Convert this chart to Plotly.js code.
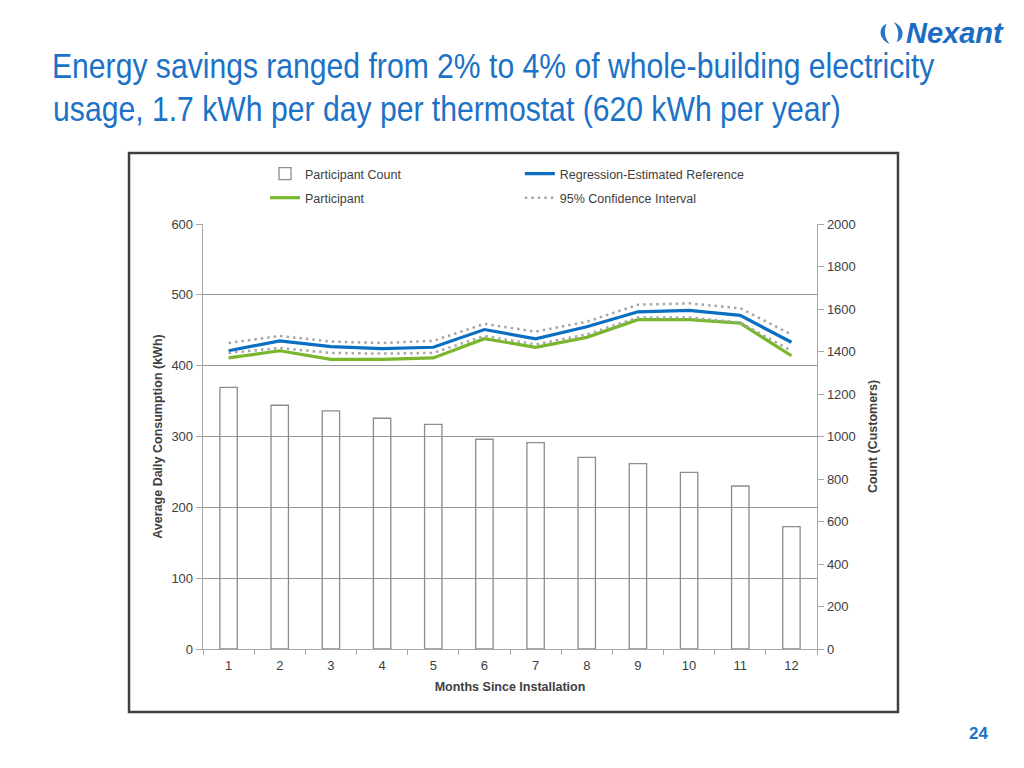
<!DOCTYPE html>
<html>
<head>
<meta charset="utf-8">
<script src="https://cdn.plot.ly/plotly-3.0.1.min.js"></script>
<style>
  html, body { margin: 0; padding: 0; background: #ffffff; }
  #chart { width: 1024px; height: 768px; }
</style>
</head>
<body>
<div id="chart"></div>
<script>
// ---- data ----
const months = ['1','2','3','4','5','6','7','8','9','10','11','12'];
const participantCount = [1231, 1147, 1121, 1086, 1057, 987, 971, 902, 872, 831, 767, 576];
const regressionReference = [421, 435, 427, 424, 426, 451, 438, 455, 476, 478, 471, 433];
const participant = [411, 421, 409, 409, 411, 438, 426, 440, 465, 465, 460, 414];
const ciUpper = [432, 442, 434, 432, 435, 459, 448, 462, 486, 488, 481, 444];
const ciLower = [418, 425, 418, 417, 418, 442, 430, 444, 468, 468, 461, 421];
const leftTicks = [0, 100, 200, 300, 400, 500, 600];
const rightTicks = [0, 200, 400, 600, 800, 1000, 1200, 1400, 1600, 1800, 2000];

const titleLine1 = 'Energy savings ranged from 2% to 4% of whole-building electricity';
const titleLine2 = 'usage, 1.7 kWh per day per thermostat (620 kWh per year)';

// ---- styling ----
const txt = '#404040';
const sans = 'Liberation Sans, Arial, sans-serif';
const titleBlue = '#1B72C6';
const titleCapSize = 35;   // visual glyph height of the narrow title font

// Pick a font size whose natural width equals the title width in the reference
// (the reference uses a narrow face); glyphs are then stretched vertically.
function fitSize(text, targetWidth) {
  const ctx = document.createElement('canvas').getContext('2d');
  ctx.font = titleCapSize + 'px "Liberation Sans", Arial, sans-serif';
  const w = ctx.measureText(text).width;
  return Math.min(titleCapSize, titleCapSize * targetWidth / w);
}
const size1 = fitSize(titleLine1, 883);
const size2 = fitSize(titleLine2, 788);

const traces = [
  {
    type: 'bar', name: 'Participant Count', x: months, y: participantCount,
    yaxis: 'y2', legend: 'legend',
    marker: { color: 'rgba(255,255,255,0)', line: { color: '#8c8c8c', width: 1.3 } },
    hoverinfo: 'x+y'
  },
  {
    type: 'scatter', mode: 'lines', name: 'Regression-Estimated Reference',
    x: months, y: regressionReference, legend: 'legend2',
    line: { color: '#0A6FC2', width: 3.2 }
  },
  {
    type: 'scatter', mode: 'lines', name: 'Participant',
    x: months, y: participant, legend: 'legend3',
    line: { color: '#78B72C', width: 3.2 }
  },
  {
    type: 'scatter', mode: 'lines', name: '95% Confidence Interval',
    x: months, y: ciUpper, legend: 'legend4',
    line: { color: '#A6A6A6', width: 2.5, dash: '2.5px,4px' }
  },
  {
    type: 'scatter', mode: 'lines', name: '95% Confidence Interval (lower)',
    x: months, y: ciLower, showlegend: false,
    line: { color: '#A6A6A6', width: 2.5, dash: '2.5px,4px' }
  }
];

const legendBase = {
  bgcolor: 'rgba(0,0,0,0)', borderwidth: 0,
  font: { family: sans, size: 12.5, color: txt },
  xanchor: 'left', yanchor: 'middle', orientation: 'v'
};

const layout = {
  width: 1024, height: 768,
  paper_bgcolor: '#ffffff', plot_bgcolor: 'rgba(0,0,0,0)',
  margin: { l: 203, r: 207, t: 224, b: 119, autoexpand: false },
  showlegend: true,
  bargap: 0.66,
  title: {
    text: titleLine1,
    font: { family: sans, size: size1, color: titleBlue },
    xref: 'container', yref: 'container',
    x: 52 / 1024, xanchor: 'left',
    y: 1 - 66 / 768, yanchor: 'middle'
  },
  xaxis: {
    type: 'category', tickson: 'boundaries',
    ticks: 'outside', ticklen: 5, tickcolor: '#a6a6a6',
    ticklabelstandoff: 4,
    showline: true, linecolor: '#a6a6a6', linewidth: 1,
    showgrid: false,
    tickfont: { family: sans, size: 13, color: txt },
    title: { text: '<b>Months Since Installation</b>', font: { family: sans, size: 12.5, color: txt }, standoff: 10 }
  },
  yaxis: {
    range: [0, 600], tickvals: leftTicks,
    ticks: 'outside', ticklen: 6, tickcolor: '#a6a6a6',
    showline: true, linecolor: '#a6a6a6', linewidth: 1.3,
    showgrid: true, gridcolor: '#969696', gridwidth: 1, zeroline: false,
    tickfont: { family: sans, size: 13, color: txt },
    title: { text: '<b>Average Daily Consumption (kWh)</b>', font: { family: sans, size: 12.5, color: txt }, standoff: 6 }
  },
  yaxis2: {
    overlaying: 'y', side: 'right',
    range: [0, 2000], tickvals: rightTicks,
    ticks: 'outside', ticklen: 6, tickcolor: '#a6a6a6',
    showline: true, linecolor: '#a6a6a6', linewidth: 1.3,
    showgrid: false, zeroline: false,
    tickfont: { family: sans, size: 13, color: txt },
    title: { text: '<b>Count (Customers)</b>', font: { family: sans, size: 12.5, color: txt }, standoff: 13 }
  },
  legend: Object.assign({}, legendBase, { x: 0.101, y: 1.1176 }),
  legend2: Object.assign({}, legendBase, { x: 0.516, y: 1.1176 }),
  legend3: Object.assign({}, legendBase, { x: 0.101, y: 1.061 }),
  legend4: Object.assign({}, legendBase, { x: 0.516, y: 1.061 }),
  shapes: [
    { type: 'rect', xref: 'paper', yref: 'paper',
      x0: -0.1205, x1: 1.1319, y0: -0.1482, y1: 1.1671,
      line: { color: '#3f3f3f', width: 2.5 }, fillcolor: 'rgba(0,0,0,0)', layer: 'below' },
    // Nexant logo mark (two swooshes)
    { type: 'path', xref: 'paper', yref: 'paper', xsizemode: 'pixel', ysizemode: 'pixel',
      xanchor: 1.1215, yanchor: 1.4495,
      path: 'M -2,-11 C -14,-6 -13,7 -5,9 C -8,2 -7,-5 -2,-11 Z',
      fillcolor: '#2a78c4', line: { width: 0 } },
    { type: 'path', xref: 'paper', yref: 'paper', xsizemode: 'pixel', ysizemode: 'pixel',
      xanchor: 1.1215, yanchor: 1.4495,
      path: 'M 2,11 C 14,6 13,-7 5,-9 C 8,-2 7,5 2,11 Z',
      fillcolor: '#2a78c4', line: { width: 0 } }
  ],
  annotations: [
    { text: titleLine2, xref: 'paper', yref: 'paper', x: (52 - 203) / 614, y: (649 - 108) / 425,
      xanchor: 'left', yanchor: 'middle', showarrow: false, borderpad: 0,
      font: { family: sans, size: size2, color: titleBlue } },
    { text: '<b><i>Nexant</i></b>', xref: 'paper', yref: 'paper', x: (955 - 203) / 614, y: (649 - 33) / 425,
      xanchor: 'center', yanchor: 'middle', showarrow: false,
      font: { family: sans, size: 29, color: '#1A6DC2' } },
    { text: '<b>24</b>', xref: 'paper', yref: 'paper', x: (979 - 203) / 614, y: (649 - 733) / 425,
      xanchor: 'center', yanchor: 'middle', showarrow: false,
      font: { family: sans, size: 17, color: titleBlue } }
  ]
};

// Stretch a title line vertically (narrow-face look) keeping its vertical centre.
function stretchY(el, k) {
  if (!el) return;
  const r0 = el.getBoundingClientRect();
  const cy0 = r0.top + r0.height / 2;
  const y = parseFloat(el.getAttribute('y')) || 0;
  const prev = el.getAttribute('transform') || '';
  el.setAttribute('transform', (prev + ' translate(0,' + y + ') scale(1,' + k + ') translate(0,' + (-y) + ')').trim());
  const r1 = el.getBoundingClientRect();
  const dy = (cy0 - (r1.top + r1.height / 2)) / k;
  el.setAttribute('transform', (prev + ' translate(0,' + y + ') scale(1,' + k + ') translate(0,' + (dy - y) + ')').trim());
}

Plotly.newPlot('chart', traces, layout, { displayModeBar: false, staticPlot: true }).then(function (gd) {
  stretchY(gd.querySelector('.gtitle'), titleCapSize / size1);
  gd.querySelectorAll('.annotation-text').forEach(function (a) {
    if (a.textContent === titleLine2) stretchY(a, titleCapSize / size2);
  });
});
</script>
</body>
</html>
